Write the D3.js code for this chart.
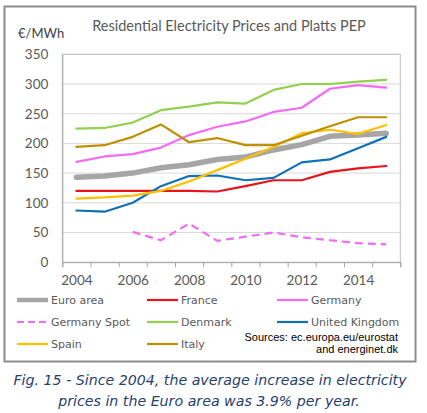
<!DOCTYPE html>
<html>
<head>
<meta charset="utf-8">
<script src="https://cdn.jsdelivr.net/npm/d3@7"></script>
<style>
  body { margin: 0; background: #fff; }
  svg { display: block; }
</style>
</head>
<body>
<div id="chart"></div>
<script>
const years = [2004, 2005, 2006, 2007, 2008, 2009, 2010, 2011, 2012, 2013, 2014, 2015];
const yearLabels = [2004, 2006, 2008, 2010, 2012, 2014];
const yTicks = [0, 50, 100, 150, 200, 250, 300, 350];

const euroArea    = [143, 145, 150, 159, 164, 173, 177, 189, 198, 212, 214, 217];
const france      = [120, 120, 120, 120, 120, 119, 128, 138, 138, 152, 158, 162];
const germany     = [169, 178, 182, 193, 214, 228, 237, 253, 260, 292, 298, 294];
const germanySpot = [null, null, 51, 37, 65, 36, 43, 50, 42, 37, 32, 30];
const denmark     = [225, 226, 235, 256, 262, 269, 267, 290, 300, 300, 304, 307];
const uk          = [87, 85, 100, 128, 145, 146, 138, 142, 168, 173, 192, 211];
const spain       = [107, 109, 112, 120, 136, 155, 174, 194, 217, 223, 216, 231];
const italy       = [194, 197, 211, 232, 202, 209, 197, 197, 213, 229, 244, 244];

const seriesNames = ["Euro area", "France", "Germany", "Germany Spot", "Denmark", "United Kingdom", "Spain", "Italy"];
const seriesValues = [euroArea, france, germany, germanySpot, denmark, uk, spain, italy];

// styles per series, same order as seriesNames
const seriesStyles = [
  {color: "#a6a6a6", width: 5.5, dash: null},
  {color: "#e8141c", width: 2.2, dash: null},
  {color: "#f36af3", width: 2.2, dash: null},
  {color: "#f36af3", width: 2.2, dash: "8,5"},
  {color: "#92d050", width: 2.2, dash: null},
  {color: "#0f70b8", width: 2.2, dash: null},
  {color: "#ffc000", width: 2.2, dash: null},
  {color: "#bf9000", width: 2.2, dash: null}
];

const greyText = "#595959";

/**
 * Builds the svg with the outer frame.
 * @return {Object} svg
 */
function appendToDom() {
  const svg = d3.select("#chart").append("svg")
    .attr("width", 427)
    .attr("height", 413);
  svg.append("rect")
    .attr("x", 4.5).attr("y", 6.5)
    .attr("width", 411).attr("height", 355)
    .attr("fill", "#fff")
    .attr("stroke", "#8c8c8c")
    .attr("stroke-width", 2);
  return svg;
}

/**
 * Plot area dimensions (in svg coordinates).
 */
function plotBox() {
  return {left: 62.3, top: 54.3, right: 400.3, bottom: 262.2};
}

function drawGrid(g, y, w) {
  g.selectAll(".grid")
    .data(yTicks.filter(t => t > 0))
    .enter().append("line")
      .attr("x1", 0).attr("x2", w)
      .attr("y1", d => y(d)).attr("y2", d => y(d))
      .attr("stroke", "#d9d9d9")
      .attr("stroke-width", 1);
}

function drawAxes(g, x, y, w, h) {
  // plot border
  g.append("rect")
    .attr("x", 0).attr("y", 0)
    .attr("width", w).attr("height", h)
    .attr("fill", "none")
    .attr("stroke", "#bfbfbf")
    .attr("stroke-width", 1);

  // y axis: labels only
  const yAxis = g.append("g")
    .call(d3.axisLeft(y).tickValues(yTicks).tickSize(0).tickPadding(14));
  yAxis.select(".domain").attr("stroke", "#a6a6a6");
  yAxis.selectAll("text")
    .attr("fill", greyText)
    .style("font-family", "Lato, 'Open Sans', sans-serif")
    .style("font-size", "13.5px");

  // x axis: ticks on category boundaries
  const bounds = years.map(d => d - 0.5).concat([years[years.length - 1] + 0.5]);
  const xTicks = g.append("g")
    .attr("transform", "translate(0," + h + ")")
    .call(d3.axisBottom(x).tickValues(bounds).tickSize(5).tickFormat(""));
  xTicks.select(".domain").attr("stroke", "#a6a6a6");
  xTicks.selectAll("line").attr("stroke", "#a6a6a6");

  const xLabels = g.append("g")
    .attr("transform", "translate(0," + h + ")")
    .call(d3.axisBottom(x).tickValues(yearLabels).tickSize(0).tickPadding(13).tickFormat(d3.format("d")));
  xLabels.select(".domain").remove();
  xLabels.selectAll("text")
    .attr("fill", greyText)
    .style("font-family", "Lato, 'Open Sans', sans-serif")
    .style("font-size", "13.5px");
}

function drawLines(g, x, y) {
  const line = d3.line()
    .defined(d => d[1] !== null)
    .x(d => x(d[0]))
    .y(d => y(d[1]));
  seriesValues.forEach((vals, i) => {
    const st = seriesStyles[i];
    g.append("path")
      .datum(years.map((yr, j) => [yr, vals[j]]))
      .attr("fill", "none")
      .attr("stroke", st.color)
      .attr("stroke-width", st.width)
      .attr("stroke-linejoin", "round")
      .attr("stroke-linecap", st.dash ? "butt" : "round")
      .attr("stroke-dasharray", st.dash)
      .attr("d", line);
  });
}

function drawTitles(svg) {
  svg.append("text")
    .attr("x", 229).attr("y", 31)
    .attr("text-anchor", "middle")
    .attr("fill", greyText)
    .style("font-family", "Lato, 'Open Sans', sans-serif")
    .style("font-size", "14.5px")
    .text("Residential Electricity Prices and Platts PEP");

  svg.append("text")
    .attr("x", 18).attr("y", 38)
    .attr("fill", "#404040")
    .style("font-family", "Lato, 'Open Sans', sans-serif")
    .style("font-size", "13px")
    .text("€/MWh");
}

function drawLegend(svg) {
  const colX = [17, 147, 277];
  const rowY = [300, 322, 344];
  seriesNames.forEach((name, i) => {
    const st = seriesStyles[i];
    const cx = colX[i % 3], cy = rowY[Math.floor(i / 3)];
    svg.append("line")
      .attr("x1", cx).attr("x2", cx + 31)
      .attr("y1", cy).attr("y2", cy)
      .attr("stroke", st.color)
      .attr("stroke-width", i === 0 ? 4.5 : 2.2)
      .attr("stroke-dasharray", st.dash ? "7,4" : null);
    svg.append("text")
      .attr("x", cx + 34).attr("y", cy)
      .attr("dy", "0.36em")
      .attr("fill", greyText)
      .style("font-family", "'DejaVu Sans', Verdana, sans-serif")
      .style("font-size", "11px")
      .text(name);
  });

  const src = svg.append("text")
    .attr("text-anchor", "end")
    .attr("fill", "#000")
    .style("font-family", "'Liberation Sans', Arial, sans-serif")
    .style("font-size", "11px");
  src.append("tspan").attr("x", 398).attr("y", 341).text("Sources: ec.europa.eu/eurostat");
  src.append("tspan").attr("x", 398).attr("y", 353).text("and energinet.dk");
}

function drawCaption(svg) {
  const cap = svg.append("text")
    .attr("text-anchor", "middle")
    .attr("fill", "#263f6e")
    .style("font-family", "'DejaVu Sans', Verdana, sans-serif")
    .style("font-style", "italic")
    .style("font-size", "14.2px");
  cap.append("tspan").attr("x", 210).attr("y", 385)
    .text("Fig. 15 - Since 2004, the average increase in electricity");
  cap.append("tspan").attr("x", 209).attr("y", 406)
    .text("prices in the Euro area was 3.9% per year.");
}

function drawGraph() {
  const svg = appendToDom();
  const box = plotBox();
  const w = box.right - box.left, h = box.bottom - box.top;
  const g = svg.append("g").attr("transform", "translate(" + box.left + "," + box.top + ")");
  const x = d3.scaleLinear().domain([2003.5, 2015.5]).range([0, w]);
  const y = d3.scaleLinear().domain([0, 350]).range([h, 0]);
  drawGrid(g, y, w);
  drawAxes(g, x, y, w, h);
  drawLines(g, x, y);
  drawTitles(svg);
  drawLegend(svg);
  drawCaption(svg);
}

drawGraph();
</script>
</body>
</html>
